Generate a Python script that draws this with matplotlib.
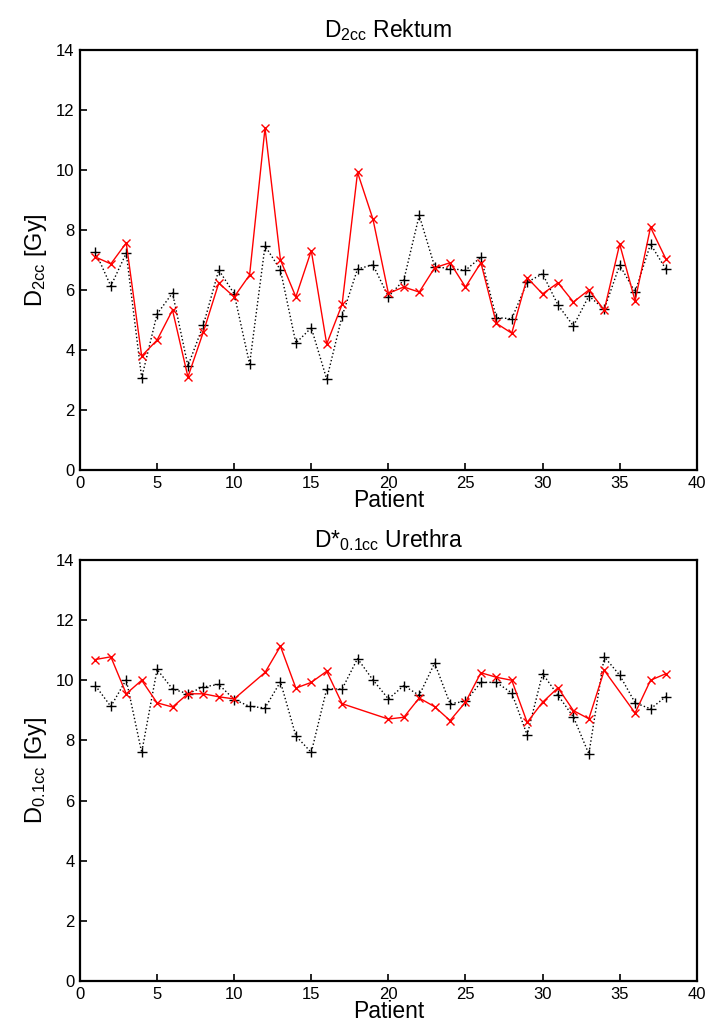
import numpy as np
import matplotlib
matplotlib.use("Agg")
import matplotlib.pyplot as plt

plt.rcParams['font.family'] = ['Liberation Sans', 'DejaVu Sans']
plt.rcParams['mathtext.fontset'] = 'custom'
plt.rcParams['mathtext.rm'] = 'Liberation Sans'
plt.rcParams['mathtext.it'] = 'Liberation Sans'

# D2cc Rektum
rek_x = list(range(1, 39))
rek_black = [7.27, 6.13, 7.23, 3.07, 5.2, 5.9, 3.47, 4.83, 6.67, 5.87,
             3.53, 7.47, 6.67, 4.23, 4.74, 3.03, 5.13, 6.7, 6.84, 5.78,
             6.33, 8.49, 6.78, 6.71, 6.66, 7.09, 5.08, 5.04, 6.26, 6.54,
             5.5, 4.8, 5.8, 5.36, 6.83, 5.93, 7.53, 6.69]
rek_red = [7.1, 6.87, 7.57, 3.8, 4.33, 5.33, 3.1, 4.6, 6.23, 5.77,
           6.5, 11.4, 7.0, 5.77, 7.31, 4.2, 5.52, 9.92, 8.36, 5.89,
           6.1, 5.93, 6.74, 6.91, 6.1, 6.91, 4.89, 4.56, 6.41, 5.87,
           6.24, 5.6, 6.0, 5.33, 7.53, 5.64, 8.09, 7.03]

# D0.1cc Urethra
ure_x = list(range(1, 39))
ure_black = [9.82, 9.13, 10.02, 7.6, 10.36, 9.71, 9.55, 9.78, 9.86, 9.36,
             9.13, 9.08, 9.95, 8.15, 7.6, 9.71, 9.71, 10.72, 10.01, 9.38,
             9.82, 9.5, 10.57, 9.22, 9.3, 9.93, 9.93, 9.58, 8.18, 10.22,
             9.5, 8.78, 7.55, 10.78, 10.17, 9.25, 9.05, 9.46]
ure_red_x = [1, 2, 3, 4, 5, 6, 7, 8, 9, 10, 12, 13, 14, 15, 16, 17,
             20, 21, 22, 23, 24, 25, 26, 27, 28, 29, 30, 31, 32, 33, 34,
             36, 37, 38]
ure_red = [10.69, 10.78, 9.55, 10.0, 9.25, 9.11, 9.55, 9.55, 9.45, 9.38,
           10.26, 11.13, 9.74, 9.93, 10.3, 9.22,
           8.71, 8.77, 9.41, 9.12, 8.66, 9.27, 10.25, 10.1, 10.0, 8.6, 9.27,
           9.75, 8.99, 8.72, 10.33, 8.91, 10.0, 10.22]

fig = plt.figure(figsize=(7.11, 10.23), dpi=100)
ax1 = fig.add_axes([0.1125, 0.5406, 0.8675, 0.4105])
ax2 = fig.add_axes([0.1125, 0.0411, 0.8675, 0.4115])


def style(ax, title, ylabel):
    ax.set_xlim(0, 40)
    ax.set_ylim(0, 14)
    ax.set_xticks(range(0, 41, 5))
    ax.set_yticks(range(0, 15, 2))
    ax.tick_params(direction='in', length=5, width=1.2, labelsize=12,
                   top=False, right=False, pad=4)
    for s in ax.spines.values():
        s.set_linewidth(1.6)
    ax.set_title(title, fontsize=16.5, pad=9)
    ax.set_xlabel('Patient', fontsize=16.5, labelpad=-1)
    ax.set_ylabel(ylabel, fontsize=17, labelpad=5)


ax1.plot(rek_x, rek_black, color='black', ls=':', lw=1, marker='+', ms=7, mew=1)
ax1.plot(rek_x, rek_red, color='red', ls='-', lw=1, marker='x', ms=6, mew=1)
style(ax1, r'D$_{\mathrm{2cc}}$ Rektum', r'D$_{\mathrm{2cc}}$ [Gy]')

ax2.plot(ure_x, ure_black, color='black', ls=':', lw=1, marker='+', ms=7, mew=1)
ax2.plot(ure_red_x, ure_red, color='red', ls='-', lw=1, marker='x', ms=6, mew=1)
style(ax2, r'D*$_{\mathrm{0.1cc}}$ Urethra', r'D$_{\mathrm{0.1cc}}$ [Gy]')

fig.savefig('out.png', dpi=100)
